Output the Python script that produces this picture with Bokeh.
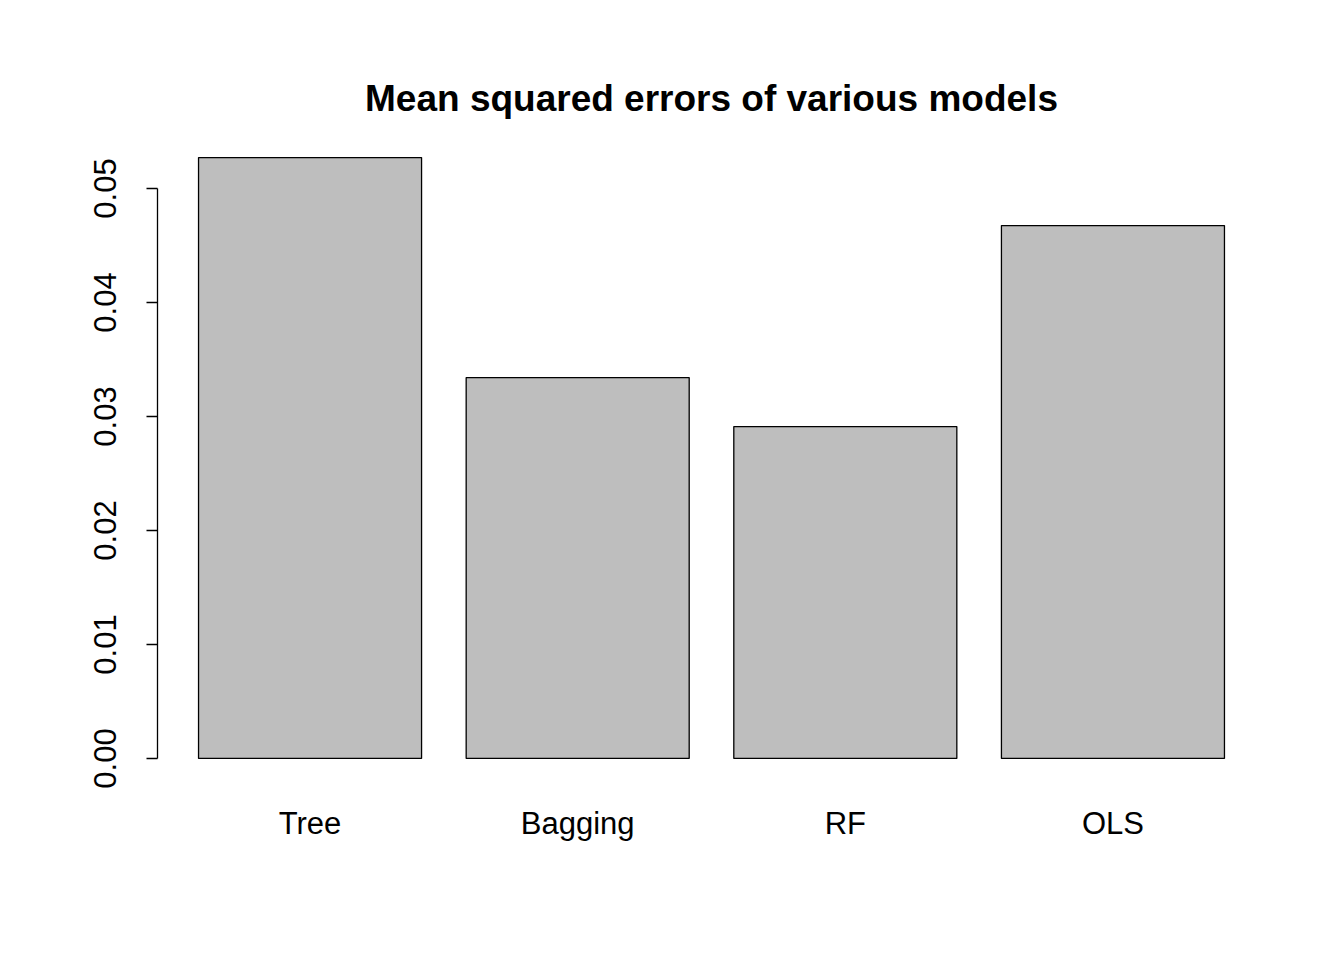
from bokeh.plotting import figure
from bokeh.models import Range1d, FixedTicker, LinearAxis
from bokeh.embed import file_html
from bokeh.resources import INLINE

models = ["Tree", "Bagging", "RF", "OLS"]
mse = [0.05272, 0.03342, 0.02912, 0.04675]
yticks = [0.00, 0.01, 0.02, 0.03, 0.04, 0.05]
ytick_labels = ["0.00", "0.01", "0.02", "0.03", "0.04", "0.05"]

centers = [0.7 + 1.2 * i for i in range(len(models))]
FONT = "Liberation Sans"

p = figure(width=1336, height=952, output_backend="svg", toolbar_location=None,
           frame_width=1108, frame_height=649,
           min_border_left=157, min_border_right=71, min_border_top=133, min_border_bottom=170,
           x_axis_location=None, y_axis_location=None,
           title="Mean squared errors of various models")
p.x_range = Range1d(0.016, 4.984)
top = max(mse) * 1.04
p.y_range = Range1d(-max(mse) * 0.04, top)
p.grid.visible = False
p.outline_line_color = None
p.background_fill_color = "white"
p.border_fill_color = "white"

p.title.align = "center"
p.title.text_font = FONT
p.title.text_font_size = "37px"
p.title.text_font_style = "bold"
p.title.text_color = "black"
p.title.standoff = 30

p.vbar(x=centers, top=mse, bottom=0, width=1.0, fill_color="#bebebe", line_color="black", line_width=1.3)

ya = LinearAxis(ticker=FixedTicker(ticks=yticks), bounds=(0, 0.05),
                major_label_overrides={t: l for t, l in zip(yticks, ytick_labels)})
ya.major_label_orientation = "vertical"
ya.major_label_text_font = FONT
ya.major_label_text_font_size = "31px"
ya.major_label_text_color = "black"
ya.major_tick_out = 11
ya.major_tick_in = 0
ya.minor_tick_out = 0
ya.minor_tick_in = 0
ya.major_label_standoff = 30
ya.axis_line_width = 1.3
ya.major_tick_line_width = 1.3
p.add_layout(ya, "left")

xa = LinearAxis(ticker=FixedTicker(ticks=centers),
                major_label_overrides={c: m for c, m in zip(centers, models)})
xa.axis_line_color = None
xa.major_tick_line_color = None
xa.minor_tick_line_color = None
xa.major_label_text_font = FONT
xa.major_label_text_font_size = "31px"
xa.major_label_text_color = "black"
xa.major_label_standoff = 17
p.add_layout(xa, "below")

open("out.html", "w").write(file_html(p, INLINE))
